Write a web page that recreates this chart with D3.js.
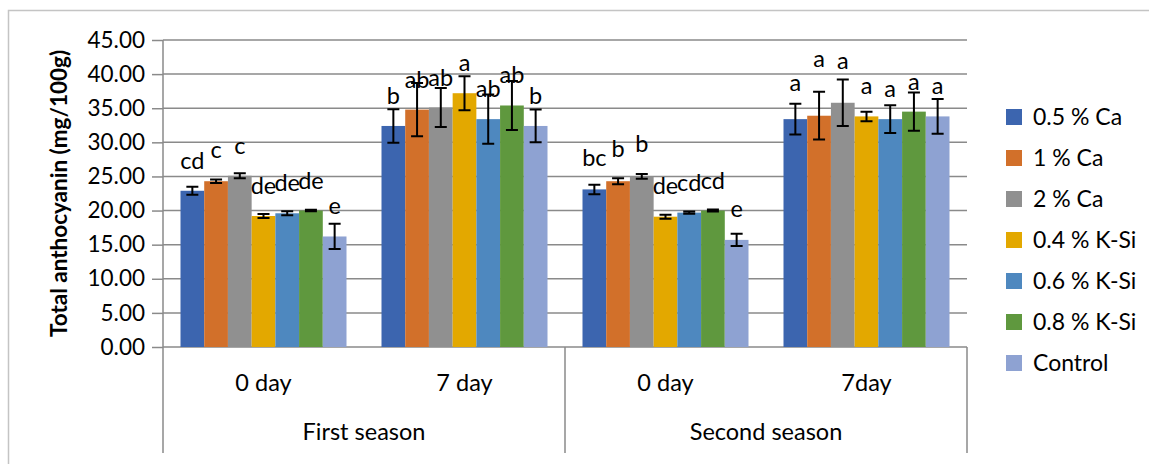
<!DOCTYPE html>
<html>
<head>
<meta charset="utf-8">
<script src="https://cdn.jsdelivr.net/npm/d3@7"></script>
<style>
  body { margin: 0; background: #fff; }
  svg text { font-family: Lato, "Liberation Sans", sans-serif; fill: #000; }
</style>
</head>
<body>
<script>
// categories
var seasons = ["First season", "Second season"];
var days = ["0 day", "7 day", "0 day", "7day"];
var dayKeys = ["s1d0", "s1d7", "s2d0", "s2d7"];
var series = ["0.5 % Ca", "1 % Ca", "2 % Ca", "0.4 % K-Si", "0.6 % K-Si", "0.8 % K-Si", "Control"];
var colors = ["#3c65af", "#d2702a", "#909090", "#e3a800", "#4e88bf", "#5f983e", "#8ea2d2"];

// values per category (one entry per series)
var means = [
  [22.9, 24.3, 25.1, 19.2, 19.6, 20.0, 16.2],
  [32.4, 34.8, 35.1, 37.2, 33.4, 35.4, 32.4],
  [23.1, 24.3, 25.0, 19.1, 19.7, 20.0, 15.7],
  [33.4, 33.9, 35.8, 33.8, 33.4, 34.5, 33.8]
];
var errs = [
  [0.6, 0.25, 0.35, 0.3, 0.3, 0.1, 1.85],
  [2.45, 3.9, 2.85, 2.5, 3.6, 3.6, 2.4],
  [0.7, 0.45, 0.35, 0.3, 0.15, 0.15, 0.9],
  [2.25, 3.5, 3.4, 0.7, 2.05, 2.8, 2.55]
];
var letters = [
  ["cd", "c", "c", "de", "de", "de", "e"],
  ["b", "ab", "ab", "a", "ab", "ab", "b"],
  ["bc", "b", "b", "de", "cd", "cd", "e"],
  ["a", "a", "a", "a", "a", "a", "a"]
];
var yTicks = [0, 5, 10, 15, 20, 25, 30, 35, 40, 45];

// extra lift (px) for labels that were moved by hand in the original
var labelLift = [
  [0, 1, 0, 0, 0, 0, 0],
  [0, 0, 0, 0, 0, 0, 0],
  [1, 2, 2, 1, 0, 0, 1],
  [6, 27, 12, 0, 0, 0, 0]
];

var W = 1149, H = 464;
var plotL = 163, plotR = 967, plotT = 40, plotB = 347;

var svg = d3.select("body").append("svg")
  .attr("width", W).attr("height", H);

// chart frame
svg.append("path")
  .attr("d", "M8.5," + H + "V10.5H" + W)
  .attr("fill", "none").attr("stroke", "#c4c4c4").attr("stroke-width", 1.5);

var y = d3.scaleLinear().domain([0, 45]).range([plotB, plotT]);
var x0 = d3.scaleBand().domain(dayKeys).range([plotL, plotR]);
var gap = 35;
var x1 = d3.scaleBand().domain(series).range([gap / 2, x0.bandwidth() - gap / 2]);

// gridlines
svg.append("g").selectAll("line").data(yTicks).enter().append("line")
  .attr("x1", plotL).attr("x2", plotR)
  .attr("y1", function(d) { return y(d); }).attr("y2", function(d) { return y(d); })
  .attr("stroke", "#8a8a8a").attr("stroke-width", 1.5);

// y axis
var yAxis = svg.append("g")
  .attr("transform", "translate(" + plotL + ",0)")
  .call(d3.axisLeft(y).tickValues(yTicks).tickSize(11).tickPadding(7)
    .tickFormat(function(d) { return d.toFixed(2); }));
yAxis.select(".domain").remove();
yAxis.selectAll(".tick line").attr("stroke", "#8a8a8a").attr("stroke-width", 1.5);
yAxis.selectAll(".tick text").style("font-size", "22.5px")
  .style("font-family", "Lato, sans-serif");

svg.append("line")
  .attr("x1", plotL).attr("x2", plotL).attr("y1", plotT).attr("y2", 453)
  .attr("stroke", "#8a8a8a").attr("stroke-width", 1.5);

// y title
svg.append("text")
  .attr("transform", "translate(67," + ((plotT + plotB) / 2) + ") rotate(-90)")
  .attr("text-anchor", "middle")
  .style("font-size", "22.5px").style("font-weight", "bold")
  .text("Total anthocyanin (mg/100g)");

// bars
var groups = svg.append("g").selectAll("g").data(dayKeys).enter().append("g")
  .attr("transform", function(d) { return "translate(" + x0(d) + ",0)"; });

groups.each(function(k, ci) {
  var g = d3.select(this);
  series.forEach(function(s, si) {
    var v = means[ci][si], e = errs[ci][si];
    var bx = x1(s), bw = x1.bandwidth(), cx = bx + bw / 2;
    g.append("rect")
      .attr("x", bx).attr("width", bw)
      .attr("y", y(v)).attr("height", y(0) - y(v))
      .attr("fill", colors[si]);
    // error bar
    g.append("path")
      .attr("d", "M" + cx + "," + y(v + e) + "V" + y(v - e) +
        "M" + (cx - 6) + "," + y(v + e) + "H" + (cx + 6) +
        "M" + (cx - 6) + "," + y(v - e) + "H" + (cx + 6))
      .attr("fill", "none").attr("stroke", "#000").attr("stroke-width", 2);
    g.append("text")
      .attr("x", cx).attr("y", y(v) - 22 - labelLift[ci][si])
      .attr("text-anchor", "middle")
      .style("font-size", "23.5px")
      .text(letters[ci][si]);
  });
});

// category axis
var xAxis = svg.append("g");
xAxis.selectAll("text.day").data(dayKeys).enter().append("text")
  .attr("x", function(d) { return x0(d) + x0.bandwidth() / 2; })
  .attr("y", 391)
  .attr("text-anchor", "middle")
  .style("font-size", "23.5px")
  .text(function(d, i) { return days[i]; });

xAxis.selectAll("text.season").data(seasons).enter().append("text")
  .attr("x", function(d, i) { return x0(dayKeys[i * 2]) + x0.bandwidth(); })
  .attr("y", 440)
  .attr("text-anchor", "middle")
  .style("font-size", "23.5px")
  .text(function(d) { return d; });

var seps = [x0(dayKeys[2]), plotR];
xAxis.selectAll("line").data(seps).enter().append("line")
  .attr("x1", function(d) { return d; }).attr("x2", function(d) { return d; })
  .attr("y1", plotB).attr("y2", 453)
  .attr("stroke", "#8a8a8a").attr("stroke-width", 1.5);

// legend
var legend = svg.append("g").selectAll("g").data(series).enter().append("g")
  .attr("transform", function(d, i) { return "translate(1006," + (117 + i * 41) + ")"; });
legend.append("rect")
  .attr("x", 0).attr("y", -8).attr("width", 16).attr("height", 16)
  .attr("fill", function(d, i) { return colors[i]; });
legend.append("text")
  .attr("x", 27).attr("y", 0).attr("dy", "0.35em")
  .style("font-size", "23px")
  .text(function(d) { return d; });
</script>
</body>
</html>
